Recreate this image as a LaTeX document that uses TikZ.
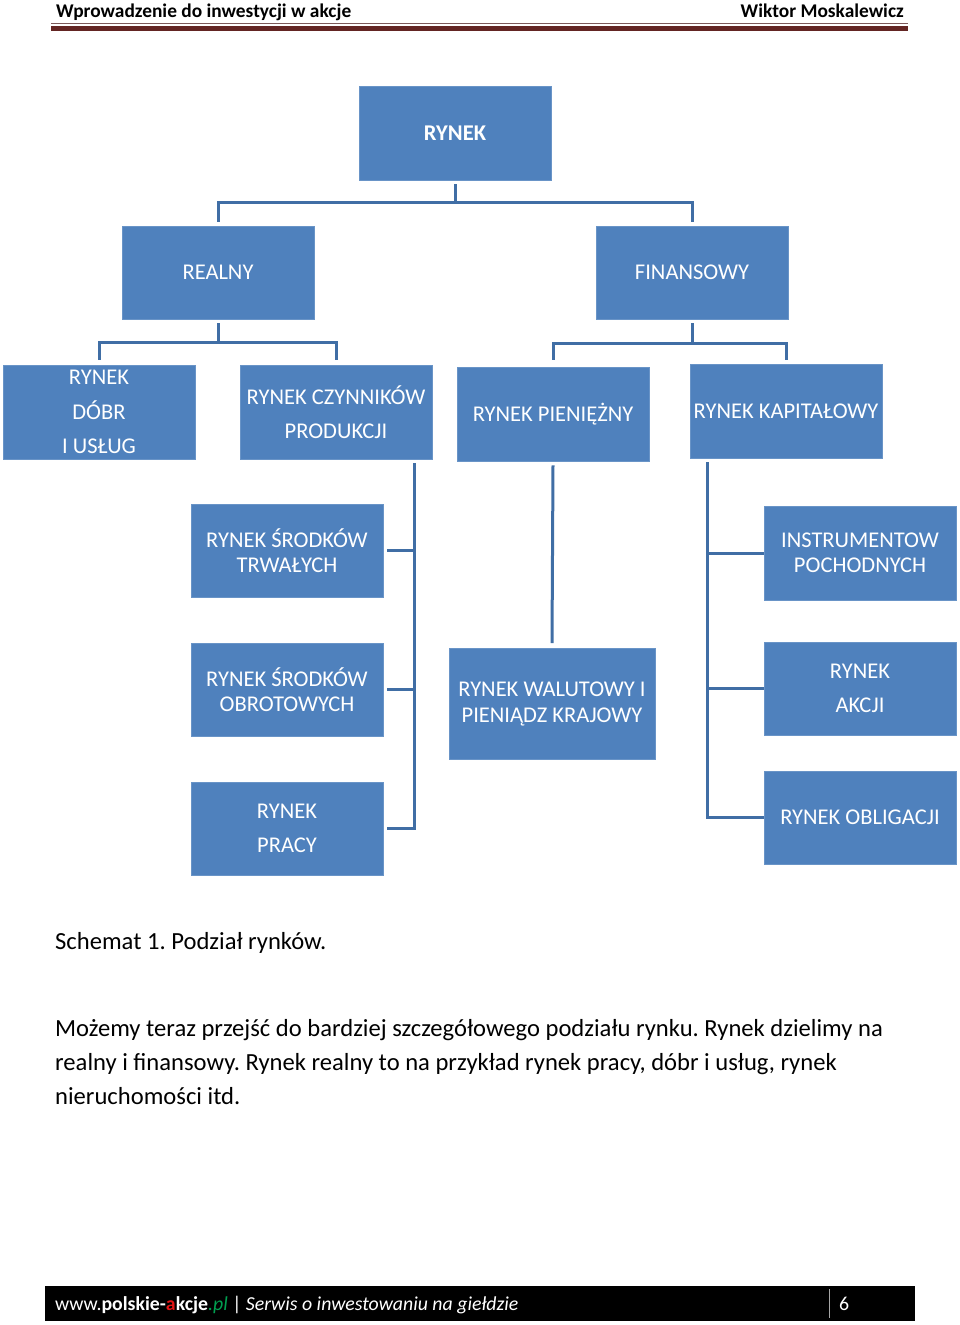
\documentclass[tikz,border=0pt]{standalone}
\usepackage{fontspec}
\setmainfont{Carlito}
\usetikzlibrary{calc}
\frenchspacing
\definecolor{boxblue}{RGB}{79,129,189}
\definecolor{connblue}{RGB}{64,110,165}
\definecolor{hdrred}{RGB}{99,37,35}
\definecolor{hdrthin}{RGB}{125,90,90}
\definecolor{plgreen}{RGB}{0,160,80}
\definecolor{plred}{RGB}{225,20,20}
\tikzset{
  box/.style={fill=boxblue, draw=boxblue!85!white, line width=0.8pt, inner sep=0pt, text=white, align=center,
     font=\fontsize{22.5}{34.5}\selectfont},
  boxt/.style={box, font=\fontsize{22.5}{25.5}\selectfont},
  conn/.style={draw=connblue, line width=3pt},
  txt/.style={anchor=base west, inner sep=0pt, font=\fontsize{24.6}{24.6}\selectfont}
}
\begin{document}
\begin{tikzpicture}[x=1pt,y=-1pt]
\useasboundingbox (0,0) rectangle (960,1325);
% header
\node[anchor=base west, inner sep=0pt, font=\fontsize{19.4}{19.4}\selectfont\bfseries] (h1) at (56,17) {Wprowadzenie do inwestycji w akcje};
\node[anchor=base east, inner sep=0pt, font=\fontsize{19.4}{19.4}\selectfont\bfseries] (h2) at (904,17) {Wiktor Moskalewicz};
\fill[hdrthin] (51,22.5) rectangle (908,24);
\fill[hdrred] (51,26) rectangle (908,31);
% boxes
\node[box, minimum width=192pt, minimum height=94pt] (rynek) at (455,133) {\textbf{RYNEK}};
\node[box, minimum width=192pt, minimum height=93pt] (realny) at (218,272.5) {REALNY};
\node[box, minimum width=192pt, minimum height=93pt] (finansowy) at (692,272.5) {FINANSOWY};
\node[box, minimum width=192pt, minimum height=94pt] (dobr) at (99,412) {RYNEK\\DÓBR\\I USŁUG};
\node[box, minimum width=192pt, minimum height=94pt] (czynnikow) at (336,412) {RYNEK CZYNNIKÓW\\PRODUKCJI};
\node[box, minimum width=192pt, minimum height=94pt] (pieniezny) at (553,414) {RYNEK PIENIĘŻNY};
\node[box, minimum width=192pt, minimum height=94pt] (kapitalowy) at (786,411) {RYNEK KAPITAŁOWY};
\node[boxt, minimum width=192pt, minimum height=93pt] (trwale) at (287,550.5) {RYNEK ŚRODKÓW\\TRWAŁYCH};
\node[boxt, minimum width=192pt, minimum height=94pt] (pochodne) at (860,553) {INSTRUMENTOW\\POCHODNYCH};
\node[boxt, minimum width=192pt, minimum height=93pt] (obrotowe) at (287,689.5) {RYNEK ŚRODKÓW\\OBROTOWYCH};
\node[boxt, minimum width=206pt, minimum height=111pt] (walutowy) at (552,704) {RYNEK WALUTOWY I\\PIENIĄDZ KRAJOWY};
\node[box, minimum width=192pt, minimum height=93pt] (akcje) at (860,688.5) {RYNEK\\AKCJI};
\node[box, minimum width=192pt, minimum height=93pt] (praca) at (287,828.5) {RYNEK\\PRACY};
\node[box, minimum width=192pt, minimum height=93pt] (obligacje) at (860,817.5) {RYNEK OBLIGACJI};
% junctions
\coordinate (j0) at (455,202);
\coordinate (j1) at (218,342);
\coordinate (j2) at (692,343);
\coordinate (v1) at ([xshift=-18pt,yshift=-4pt]czynnikow.south east);
\coordinate (v3) at ([xshift=18pt,yshift=-4pt]kapitalowy.south west);
% connectors
\draw[conn] ([yshift=-4pt]rynek.south) -- (j0);
\draw[conn] ([yshift=4pt]realny.north) |- (j0) -| ([yshift=4pt]finansowy.north);
\draw[conn] ([yshift=-4pt]realny.south) -- (j1);
\draw[conn] ([yshift=5pt]dobr.north) |- (j1) -| ([yshift=5pt]czynnikow.north);
\draw[conn] ([yshift=-4pt]finansowy.south) -- (j2);
\draw[conn] ([yshift=7pt]pieniezny.north) |- (j2) -| ([yshift=4pt]kapitalowy.north);
\draw[conn] (v1) |- ([xshift=4pt]praca.east);
\draw[conn] (v1 |- trwale.east) -- ([xshift=4pt]trwale.east);
\draw[conn] (v1 |- obrotowe.east) -- ([xshift=4pt]obrotowe.east);
\draw[conn] ([yshift=-4pt]pieniezny.south) -- ([yshift=5pt]walutowy.north);
\draw[conn] (v3) |- (obligacje.west);
\draw[conn] (v3 |- pochodne.west) -- (pochodne.west);
\draw[conn] (v3 |- akcje.west) -- (akcje.west);
% caption and body
\node[txt] (cap) at (55,949) {Schemat 1. Podział rynków.};
\node[txt] (b1) at (55,1036) {Możemy teraz przejść do bardziej szczegółowego podziału rynku. Rynek dzielimy na};
\node[txt] (b2) at (55,1070) {realny i finansowy. Rynek realny to na przykład rynek pracy, dóbr i usług, rynek};
\node[txt] (b3) at (55,1104) {nieruchomości itd.};
% footer
\fill[black] (45,1286) rectangle (915,1321);
\draw[gray!70, line width=0.8pt] (829,1289) -- (829,1318);
\node[anchor=base west, inner sep=0pt, text=white, font=\fontsize{19.8}{19.8}\selectfont] (f1) at (55,1310)
  {www.\textbf{polskie-\textcolor{plred}{a}kcje}\textit{\textcolor{plgreen}{.pl}} | \textit{Serwis o inwestowaniu na giełdzie}};
\node[anchor=base west, inner sep=0pt, text=white, font=\fontsize{19.8}{19.8}\selectfont] (f2) at (839,1310) {6};
\end{tikzpicture}
\end{document}
